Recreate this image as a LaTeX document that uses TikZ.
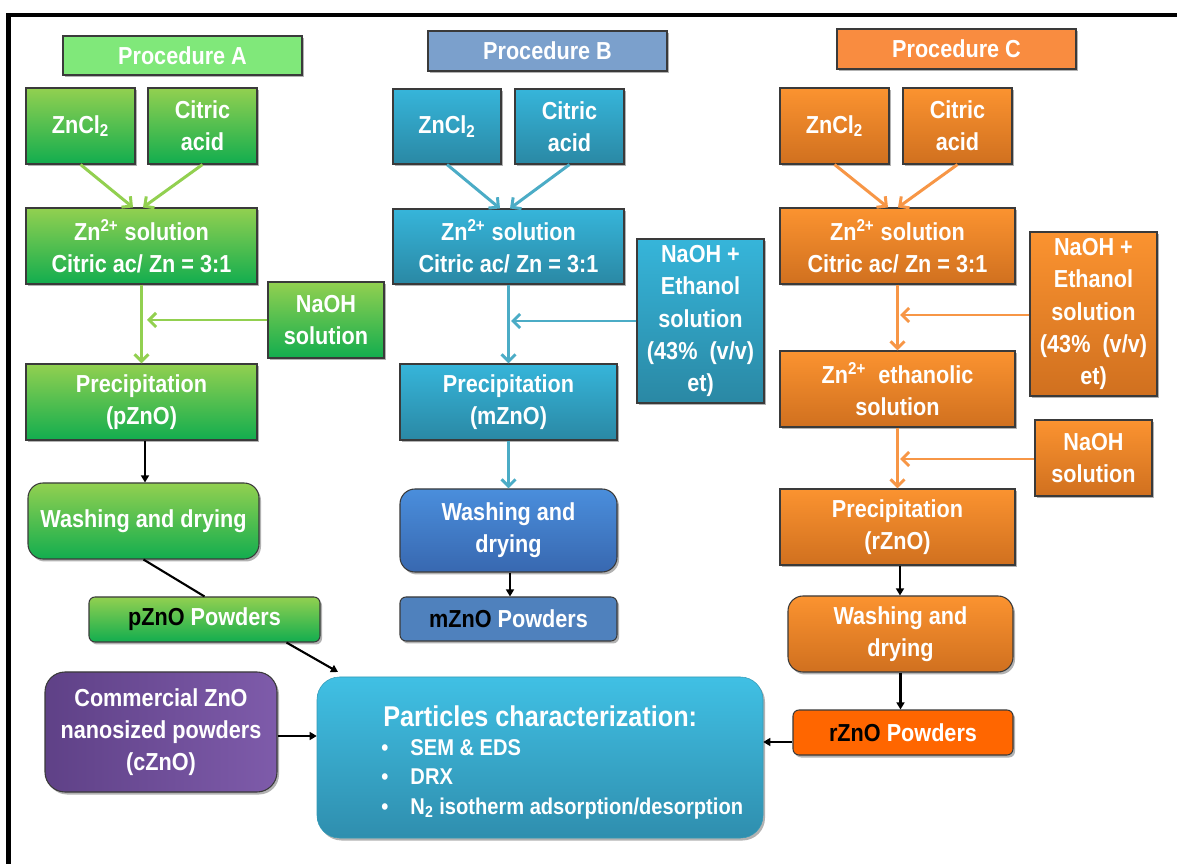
\documentclass[tikz,border=0pt]{standalone}
\usepackage{fontspec}
\setmainfont{Liberation Sans}[FakeStretch=0.88]
\usetikzlibrary{arrows.meta,shadows}
\definecolor{bord}{HTML}{3A3A3A}
\definecolor{gT}{HTML}{92D050}
\definecolor{gB}{HTML}{12AD4F}
\definecolor{bT}{HTML}{36B5DA}
\definecolor{bB}{HTML}{2A88A4}
\definecolor{oT}{HTML}{FB9330}
\definecolor{oB}{HTML}{D0701F}
\definecolor{wbT}{HTML}{4A8EDC}
\definecolor{wbB}{HTML}{3868B0}
\definecolor{mpow}{HTML}{4F81BD}
\definecolor{rpow}{HTML}{FF6600}
\definecolor{puL}{HTML}{5F4187}
\definecolor{puR}{HTML}{7E5BAA}
\definecolor{pcT}{HTML}{40C0E4}
\definecolor{pcB}{HTML}{2F8EAE}
\definecolor{hA}{HTML}{80E87A}
\definecolor{hB}{HTML}{7BA0CC}
\definecolor{hC}{HTML}{F98C40}
\definecolor{gA}{HTML}{92D050}
\definecolor{bA}{HTML}{4BACC6}
\definecolor{oA}{HTML}{F79646}
\newcommand\mainf{\fontsize{14}{18.3}\selectfont\bfseries}
\newcommand\pbox[7]{\node[#1, minimum width={(#4-#2)*0.02cm}, minimum height={(#5-#3)*0.02cm}] (#6) at ({(#2+#4)/2},{(#3+#5)/2}) {#7};}
\begin{document}
\begin{tikzpicture}[x=0.02cm,y=-0.02cm,
  base/.style={draw=bord, line width=0.6pt, inner sep=0pt, align=center, text=white, font=\mainf,
    drop shadow={shadow xshift=0.04cm, shadow yshift=-0.05cm, opacity=0.3, fill=black}},
  hdr/.style={base, fill=#1},
  gbox/.style={base, top color=gT, bottom color=gB},
  bbox/.style={base, top color=bT, bottom color=bB},
  obox/.style={base, top color=oT, bottom color=oB},
  wbbox/.style={base, top color=wbT, bottom color=wbB, rounded corners=0.3cm},
  rnd/.style={rounded corners=0.3cm},
  rsm/.style={rounded corners=0.12cm},
  garr/.style={draw=gA, line width=1.7pt, -{Straight Barb[length=4pt,width=8pt]}},
  barr/.style={draw=bA, line width=1.7pt, -{Straight Barb[length=4pt,width=8pt]}},
  oarr/.style={draw=oA, line width=1.7pt, -{Straight Barb[length=4pt,width=8pt]}},
  karr/.style={draw=black, line width=1.2pt, -{Triangle[length=4pt,width=4.5pt]}},
  kline/.style={draw=black, line width=1.2pt},
  ptxt/.style={text=white, inner sep=0pt, anchor=base west}
]
\useasboundingbox (0,0) rectangle (1177,864);
\fill[white] (0,0) rectangle (1177,864);
% frame
\draw[line width=2.3pt] (8.5,870) -- (8.5,15) -- (1185,15);

% ---------- Procedure A ----------
\pbox{hdr=hA}{63}{36}{302}{75}{hdrA}{Procedure A}
\pbox{gbox}{26}{88}{135}{164}{zcA}{ZnCl\textsubscript{2}}
\pbox{gbox}{148}{88}{257}{164}{caA}{Citric\\acid}
\pbox{gbox}{26}{208}{257}{284}{znA}{Zn\textsuperscript{2+} solution\\Citric ac/ Zn = 3:1}
\pbox{gbox}{268}{282}{384}{358}{naA}{NaOH\\solution}
\pbox{gbox}{26}{364}{257}{440}{prA}{Precipitation\\(pZnO)}
\pbox{gbox,rnd}{28}{483}{259}{559}{waA}{Washing and drying}
\pbox{gbox,rsm}{89}{597}{320}{642}{pzA}{\textcolor{black}{pZnO} Powders}
\pbox{base,left color=puL,right color=puR,rounded corners=0.4cm}{45}{672}{277}{792}{cz}{Commercial ZnO\\nanosized powders\\(cZnO)}

% ---------- Procedure B ----------
\pbox{hdr=hB}{428}{31}{667}{71}{hdrB}{Procedure B}
\pbox{bbox}{393}{89}{501}{164}{zcB}{ZnCl\textsubscript{2}}
\pbox{bbox}{515}{89}{624}{164}{caB}{Citric\\acid}
\pbox{bbox}{393}{209}{624}{284}{znB}{Zn\textsuperscript{2+} solution\\Citric ac/ Zn = 3:1}
\pbox{bbox}{637}{239}{764}{403}{neB}{NaOH +\\Ethanol\\solution\\(43\%~~(v/v)\\et)}
\pbox{bbox}{400}{364}{617}{440}{prB}{Precipitation\\(mZnO)}
\pbox{wbbox}{400}{489}{617}{572}{waB}{Washing and\\drying}
\pbox{base,fill=mpow,rsm}{400}{597}{617}{641}{pzB}{\textcolor{black}{mZnO} Powders}

% ---------- Procedure C ----------
\pbox{hdr=hC}{837}{29}{1076}{69}{hdrC}{Procedure C}
\pbox{obox}{780}{88}{889}{164}{zcC}{ZnCl\textsubscript{2}}
\pbox{obox}{903}{88}{1012}{164}{caC}{Citric\\acid}
\pbox{obox}{780}{208}{1015}{284}{znC}{Zn\textsuperscript{2+} solution\\Citric ac/ Zn = 3:1}
\pbox{obox}{1030}{232}{1157}{396}{neC}{NaOH +\\Ethanol\\solution\\(43\%~~(v/v)\\et)}
\pbox{obox}{780}{351}{1015}{427}{etC}{Zn\textsuperscript{2+}~~ethanolic\\solution}
\pbox{obox}{1035}{420}{1152}{496}{naC}{NaOH\\solution}
\pbox{obox}{780}{489}{1015}{565}{prC}{Precipitation\\(rZnO)}
\pbox{obox,rnd}{788}{596}{1013}{672}{waC}{Washing and\\drying}
\pbox{base,fill=rpow,rsm}{793}{710}{1013}{755}{rzC}{\textcolor{black}{rZnO} Powders}

% ---------- Characterization ----------
\pbox{base,top color=pcT,bottom color=pcB,rounded corners=0.45cm,draw=pcT!80!black,line width=0.3pt}{317}{677}{763}{838}{part}{}
\node[ptxt, font=\fontsize{16.3}{18}\selectfont\bfseries] (ptitle) at (383,726) {Particles characterization:};
\node[ptxt, font=\fontsize{13}{15}\selectfont\bfseries] (pl1) at (381,755) {\makebox[16.6pt][l]{\textbullet}SEM \& EDS};
\node[ptxt, font=\fontsize{13}{15}\selectfont\bfseries] (pl2) at (381,785) {\makebox[16.6pt][l]{\textbullet}DRX};
\node[ptxt, font=\fontsize{13}{15}\selectfont\bfseries] (pl3) at (381,814) {\makebox[16.6pt][l]{\textbullet}N\textsubscript{2} isotherm adsorption/desorption};

% ---------- connectors A ----------
\draw[garr] (zcA.south) -- ([xshift=-0.17cm]znA.north);
\draw[garr] (caA.south) -- ([xshift=0.03cm]znA.north);
\draw[garr] (znA.south) -- (prA.north);
\coordinate (jA) at (147,320);
\draw[garr] (naA.west) -- (jA);
\draw[karr] ([xshift=0.07cm]prA.south) -- ([xshift=0.07cm]prA.south |- waA.north);
\draw[kline] (waA.south) -- (pzA.north);
\coordinate (pA) at (338,672);
\draw[karr] ([xshift=1.64cm]pzA.south) -- (pA);
\draw[karr] ([yshift=-0.08cm]cz.east) -- ([yshift=-0.08cm]cz.east -| part.west);

% ---------- connectors B ----------
\draw[barr] (zcB.south) -- ([xshift=-0.17cm]znB.north);
\draw[barr] (caB.south) -- ([xshift=0.03cm]znB.north);
\draw[barr] (znB.south) -- (prB.north);
\coordinate (jB) at (511,321);
\draw[barr] (neB.west) -- (jB);
\draw[barr] (prB.south) -- (waB.north);
\draw[karr] ([xshift=0.03cm]waB.south) -- ([xshift=0.03cm]pzB.north);

% ---------- connectors C ----------
\draw[oarr] (zcC.south) -- ([xshift=-0.19cm]znC.north);
\draw[oarr] (caC.south) -- ([xshift=0.01cm]znC.north);
\draw[oarr] (znC.south) -- (etC.north);
\coordinate (jC1) at (900,315);
\draw[oarr] (neC.west |- jC1) -- (jC1);
\draw[oarr] (etC.south) -- (prC.north);
\coordinate (jC2) at (900,459);
\draw[oarr] (naC.west |- jC2) -- (jC2);
\draw[karr] ([xshift=0.05cm]prC.south) -- ([xshift=0.05cm]prC.south |- waC.north);
\draw[karr] (waC.south) -- (waC.south |- rzC.north);
\draw[karr] ([yshift=-0.19cm]rzC.west) -- ([yshift=-0.19cm]rzC.west -| part.east);
\end{tikzpicture}
\end{document}
